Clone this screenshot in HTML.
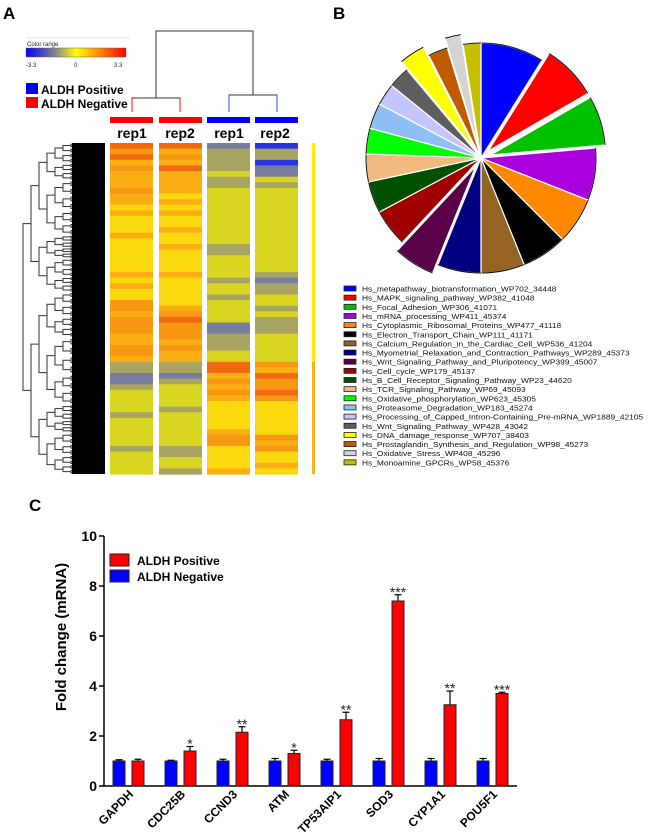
<!DOCTYPE html>
<html><head><meta charset="utf-8"><style>
html,body{margin:0;padding:0;background:#fff;}
svg{display:block;font-family:"Liberation Sans",Arial,sans-serif;}
</style></head><body>
<svg id="fig" width="650" height="839" viewBox="0 0 650 839" xmlns="http://www.w3.org/2000/svg">
<!-- Panel A -->
<g>
<text x="3" y="19" font-size="17" font-weight="bold">A</text>
<g>
<line x1="26" y1="38" x2="130" y2="38" stroke="#ccc" stroke-width="0.6"/>
<text x="27" y="46" font-size="6" fill="#222">Color range</text>
<defs><linearGradient id="cr" x1="0" x2="1"><stop offset="0" stop-color="#0000ff"/><stop offset="0.3" stop-color="#888888"/><stop offset="0.5" stop-color="#ffff00"/><stop offset="0.7" stop-color="#ff9900"/><stop offset="1" stop-color="#ff0000"/></linearGradient></defs>
<rect x="26" y="48" width="100" height="9" fill="url(#cr)" stroke="#666" stroke-width="0.5"/>
<text x="26" y="67" font-size="6" fill="#222">-3.3</text>
<text x="74" y="67" font-size="6" fill="#222">0</text>
<text x="114" y="67" font-size="6" fill="#222">3.3</text>
</g>
<g>
<rect x="26" y="83" width="12" height="11" fill="#0000ff"/>
<text x="41" y="94" font-size="12" font-weight="bold">ALDH Positive</text>
<rect x="26" y="97" width="12" height="11" fill="#ff0000"/>
<text x="41" y="108" font-size="12" font-weight="bold">ALDH Negative</text>
</g>
<g fill="none" stroke-width="1">
<path d="M156 98 V31 H253 V95" stroke="#333"/>
<path d="M132 112 V98 H180 V112" stroke="#333"/>
<path d="M132 98 V112 M180 98 V112" stroke="#ff0000"/>
<path d="M229 112 V95 H277 V112" stroke="#333"/>
<path d="M229 95 V112 M277 95 V112" stroke="#3344ff"/>
</g>
<g>
<rect x="110" y="117" width="43" height="6" fill="#ff0000"/>
<rect x="159" y="117" width="43" height="6" fill="#ff0000"/>
<rect x="207" y="117" width="43" height="6" fill="#0000ff"/>
<rect x="255" y="117" width="43" height="6" fill="#0000ff"/>
</g>
<g font-size="14" font-weight="bold" text-anchor="middle">
<text x="132" y="138">rep1</text><text x="180" y="138">rep2</text>
<text x="229" y="138">rep1</text><text x="275" y="138">rep2</text>
</g>
<g id="rowdend"></g>
<g id="heat"></g>
</g>
<!-- Panel B -->
<g>
<text x="333" y="19" font-size="17" font-weight="bold">B</text>
<g id="pie"></g>
<g id="pieleg"></g>
</g>
<!-- Panel C -->
<g>
<text x="29" y="511" font-size="17" font-weight="bold">C</text>
<g id="bars"></g>
</g>
</svg>
<script>
// ---- Bar chart data ----
const genes = ["GAPDH","CDC25B","CCND3","ATM","TP53AIP1","SOD3","CYP1A1","POU5F1"];
const negValues = [1,1,1,1,1,1,1,1];
const negErrors = [0.05,0.03,0.07,0.1,0.07,0.1,0.1,0.1];
const posValues = [1,1.4,2.15,1.3,2.65,7.4,3.25,3.7];
const posErrors = [0.07,0.18,0.22,0.13,0.3,0.25,0.55,0.05];
const stars = ["","*","**","*","**","***","**","***"];
const yTicks = [0,2,4,6,8,10];
// ---- Pie data ----
const pathways = ["Hs_metapathway_biotransformation_WP702_34448","Hs_MAPK_signaling_pathway_WP382_41048","Hs_Focal_Adhesion_WP306_41071","Hs_mRNA_processing_WP411_45374","Hs_Cytoplasmic_Ribosomal_Proteins_WP477_41118","Hs_Electron_Transport_Chain_WP111_41171","Hs_Calcium_Regulation_in_the_Cardiac_Cell_WP536_41204","Hs_Myometrial_Relaxation_and_Contraction_Pathways_WP289_45373","Hs_Wnt_Signaling_Pathway_and_Pluripotency_WP399_45007","Hs_Cell_cycle_WP179_45137","Hs_B_Cell_Receptor_Signaling_Pathway_WP23_44620","Hs_TCR_Signaling_Pathway_WP69_45093","Hs_Oxidative_phosphorylation_WP623_45305","Hs_Proteasome_Degradation_WP183_45274","Hs_Processing_of_Capped_Intron-Containing_Pre-mRNA_WP1889_42105","Hs_Wnt_Signaling_Pathway_WP428_43042","Hs_DNA_damage_response_WP707_38403","Hs_Prostaglandin_Synthesis_and_Regulation_WP98_45273","Hs_Oxidative_Stress_WP408_45296","Hs_Monoamine_GPCRs_WP58_45376"];
const pieValues = [32,28,25,26.5,23.5,23,22,22,21,19,16,14,13,13,11,11,13,10,8,9];
const pieExploded = [0,1,1,0,0,0,0,0,1,0,0,0,0,0,0,0,1,0,1,0];
const pieColors = ["#0000ff","#ff0000","#00c000","#aa00dd","#ff8800","#000000","#966422","#000080","#5a0048","#a00000","#005000","#f2b97e","#00ff00","#8fc0f5","#c4c4ff","#5e5e5e","#ffff00","#c05a00","#d4d4d4","#c4c000"];
// ---- Heatmap column strings ----
const heatCols = [
 "RORoOoooOooYoYYYoYYYYYYoYoYYOOoOOOooOOoggbbgyyyygyyyyygyyyy",
 "RoOoRooooYoYoYYoYYoYYYYoYYYYYoOROOOoOooggbgyyyygyyyyyyggyyg",
 "bggggyggyyyyyyyyyyggyyyygyygyyyybbgggyyRRoOoOoYYYYYoOOYYYYo",
 "BggBbbygyyyyyyyyyyyyyyygbggyygygggyyyyyOoROOROYYYYYYOoOYYoY"];
const heatPalette = {R:"#f26a10",O:"#f89812",o:"#fbae14",Y:"#fcd80e",y:"#d9d622",g:"#a8a462",b:"#777ca0",B:"#2a34dd"};

const NS="http://www.w3.org/2000/svg";
function mk(parent,tag,attrs){const e=document.createElementNS(NS,tag);for(const k in attrs)e.setAttribute(k,attrs[k]);parent.appendChild(e);return e;}

// Heatmap
(function(){
 const g=document.getElementById('heat');
 const xs=[110,159,207,255], w=43, top=143, bot=474;
 heatCols.forEach((s,ci)=>{
  const h=(bot-top)/s.length;
  for(let i=0;i<s.length;i++){
   const r=mk(g,'rect',{x:xs[ci],y:(top+i*h).toFixed(2),width:w,height:(h+0.6).toFixed(2),fill:heatPalette[s[i]]});
   
   
  }
 });
 const split=top+(bot-top)*39/59;
 mk(g,'rect',{x:312,y:top,width:3,height:split-top,fill:"#ffee00"});
 mk(g,'rect',{x:312,y:split,width:3,height:bot-split,fill:"#fbb020"});
})();

// Row dendrogram (decorative tree)
(function(){
 const g=document.getElementById('rowdend');
 mk(g,'rect',{x:72,y:143,width:33,height:331,fill:"#000"});
 let d="";
 function tree(y0,y1,depth){
  if(depth>=7){return (y0+y1)/2;}
  const frac=[0.45,0.62,0.4,0.55,0.5,0.48,0.52][depth];
  const ym=y0+(y1-y0)*frac;
  const a=tree(y0,ym,depth+1), b=tree(ym,y1,depth+1);
  const x=23+depth*8;
  const cx=depth+1>=7?72:23+(depth+1)*8;
  d+=`M${cx} ${a}H${x}V${b}H${cx}`;
  return (a+b)/2;
 }
 tree(143,474,0);
 mk(g,'path',{d:d,fill:"none",stroke:"#333","stroke-width":1});
})();

// Pie
(function(){
 const g=document.getElementById('pie');
 const cx=481,cy=158,R=115;
 const total=pieValues.reduce((a,b)=>a+b,0);
 let a0=0;
 pieValues.forEach((v,i)=>{
  const a1=a0+v/total*2*Math.PI, am=(a0+a1)/2;
  const off=pieExploded[i]?10:0;
  const ox=cx+off*Math.sin(am), oy=cy-off*Math.cos(am);
  const p=(a)=>[ox+R*Math.sin(a), oy-R*Math.cos(a)];
  const [x0,y0]=p(a0),[x1,y1]=p(a1);
  const path=mk(g,'path',{d:`M${ox} ${oy}L${x0} ${y0}A${R} ${R} 0 ${a1-a0>Math.PI?1:0} 1 ${x1} ${y1}Z`,fill:pieColors[i],stroke:"#fff","stroke-width":1.2});
  
  
  mk(g,'path',{d:`M${x0} ${y0}A${R} ${R} 0 0 1 ${x1} ${y1}`,fill:"none",stroke:"#111","stroke-width":1});
  a0=a1;
 });
 const lg=document.getElementById('pieleg');
 pathways.forEach((name,i)=>{
  const y=289+i*9.15;
  const r=mk(lg,'rect',{x:344,y:y-3,width:12,height:5,fill:pieColors[i],stroke:"#222","stroke-width":0.8});
  
  
  const t=mk(lg,'text',{x:0,y:0,"font-size":7.3,fill:"#111",transform:`translate(362,${y+2.5}) scale(1.15,1)`});
  t.textContent=name;
  
  
 });
})();

// Bar chart
(function(){
 const g=document.getElementById('bars');
 const x0=104,x1=517,yb=786,unit=25;
 const Y=v=>yb-v*unit;
 const band=52;
 mk(g,'path',{d:`M${x0} ${Y(10)}V${yb}H${x1}`,fill:"none",stroke:"#000","stroke-width":1.5});
 yTicks.forEach(t=>{
  mk(g,'line',{x1:x0-5,x2:x0,y1:Y(t),y2:Y(t),stroke:"#000","stroke-width":1.5});
  const tx=mk(g,'text',{x:x0-7,y:Y(t)+5,"font-size":14,"font-weight":"bold","text-anchor":"end"});
  tx.textContent=t;
  
  
 });
 const yt=mk(g,'text',{x:0,y:0,"font-size":15,"font-weight":"bold","text-anchor":"middle",transform:"translate(66,637) rotate(-90)"});
 yt.textContent="Fold change (mRNA)";
 
 
 function bar(x,v,e,col,name){
  mk(g,'line',{x1:x+6,x2:x+6,y1:Y(v),y2:Y(v+e),stroke:"#000","stroke-width":1.2});
  mk(g,'line',{x1:x+2.5,x2:x+9.5,y1:Y(v+e),y2:Y(v+e),stroke:"#000","stroke-width":1.2});
  const r=mk(g,'rect',{x:x,y:Y(v),width:12,height:v*unit,fill:col,stroke:"#222","stroke-width":1});
  
  
 }
 genes.forEach((gn,i)=>{
  const bx=x0+i*band;
  bar(bx+9,negValues[i],negErrors[i],"#0000ff",'bar-negative');
  bar(bx+28,posValues[i],posErrors[i],"#ff0000",'bar-positive');
  if(stars[i]){
   const s=mk(g,'text',{x:bx+34,y:Y(posValues[i]+posErrors[i])+2,"font-size":14,"text-anchor":"middle",fill:"#222"});
   s.textContent=stars[i];
   
   
  }
  const l=mk(g,'text',{x:0,y:0,"font-size":12,"font-weight":"bold","text-anchor":"end",transform:`translate(${bx+30},${yb+9}) rotate(-45)`});
  l.textContent=gn;
  
  
 });
 const lg=mk(g,'g',{});
 
 
 mk(lg,'rect',{x:110,y:554,width:19,height:12,fill:"#ff0000",stroke:"#222","stroke-width":1});
 mk(lg,'rect',{x:110,y:570,width:19,height:12,fill:"#0000ff",stroke:"#222","stroke-width":1});
 const t1=mk(lg,'text',{x:137,y:565,"font-size":12,"font-weight":"bold"});t1.textContent="ALDH Positive";
 const t2=mk(lg,'text',{x:137,y:581,"font-size":12,"font-weight":"bold"});t2.textContent="ALDH Negative";
})();
</script>
</body></html>
